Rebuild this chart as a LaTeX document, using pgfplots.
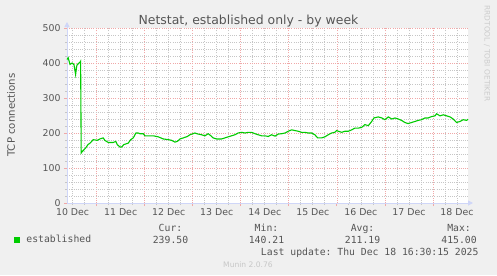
\documentclass[border=0pt]{standalone}
\usepackage{pgfplots}
\pgfplotsset{compat=1.18}
\usepackage{fontspec}
\setmainfont{DejaVu Sans}
\setmonofont{DejaVu Sans Mono}
\usetikzlibrary{arrows.meta}
\definecolor{bgc}{HTML}{F0F0F0}
\definecolor{fontc}{HTML}{555555}
\definecolor{gridc}{HTML}{C6C6C6}
\definecolor{mgridc}{HTML}{F0A8A8}
\definecolor{axisc}{HTML}{CFD6F8}
\definecolor{linec}{HTML}{00CC00}
\pgfplotstableread{
h v
9.2 410
9.8 415
10.7 396
11.8 400
12.7 395
13.5 367
14.0 390
14.3 395
15.2 400
15.7 402
16.0 405
16.3 143
16.8 147
18.5 157
19.7 167
20.7 171
22.3 181
24.3 179
25.6 183
27.3 186
28.1 179
29.8 173
32.3 173
33.6 176
34.3 167
35.6 160
36.5 160
37.6 167
39.8 171
41.0 181
42.3 186
43.6 200
44.8 200
45.6 198
47.3 198
48.1 192
50.6 192
52.3 192
54.8 189
57.3 183
59.8 181
61.5 179
63.1 174
64.3 176
65.6 183
67.3 186
69.3 190
70.6 195
73.1 200
74.7 197
76.4 195
78.1 192
79.7 198
81.1 192
82.2 186
83.9 183
86.4 183
88.1 186
89.7 189
91.4 192
93.1 195
94.7 200
96.4 202
98.1 200
99.7 202
101.4 202
103.1 198
104.7 195
106.4 192
108.1 192
109.7 190
111.4 195
113.1 191
114.7 197
116.4 198
118.1 200
119.7 205
121.4 209
123.1 207
124.7 205
126.4 202
128.1 202
129.7 200
131.4 200
133.0 195
134.4 186
136.4 186
138.0 189
139.7 195
141.4 200
143.0 202
143.9 207
144.7 205
146.4 202
148.0 205
149.7 205
151.4 209
153.0 214
154.7 214
156.4 216
158.0 224
159.7 221
161.4 233
162.5 243
164.7 246
166.4 243
168.0 238
169.7 246
171.4 240
173.0 243
174.7 240
176.3 236
178.0 230
179.6 227
181.3 230
183.0 233
184.6 236
186.3 238
188.0 243
189.6 243
191.3 247
193.0 249
193.8 255
195.5 249
197.1 252
198.8 249
200.5 246
202.1 240
203.8 230
205.5 233
207.1 238
208.8 236
209.5 239.5
}\datatable
\begin{document}
\begin{tikzpicture}[x=1bp,y=1bp]
\fill[bgc] (0,0) rectangle (497,275);
\useasboundingbox (0,0) rectangle (497,275);
\begin{axis}[
  at={(67bp,72bp)}, anchor=south west,
  scale only axis, width=401bp, height=175bp,
  xmin=9.2, xmax=209.5, ymin=0, ymax=500,
  axis background/.style={fill=white},
  axis x line*=bottom, axis y line*=left,
  x axis line style={color=axisc, line width=1bp, -{Triangle[length=5bp,width=5bp]}, shorten >=-5bp},
  y axis line style={color=axisc, line width=1bp, -{Triangle[length=5bp,width=5bp]}, shorten >=-6bp},
  xtick={24,48,72,96,120,144,168,192},
  xticklabels={},
  minor xtick={12,18,30,36,42,54,60,66,78,84,90,102,108,114,126,132,138,150,156,162,174,180,186,198,204},
  extra x ticks={12,36,60,84,108,132,156,180,204},
  extra x tick labels={10 Dec,11 Dec,12 Dec,13 Dec,14 Dec,15 Dec,16 Dec,17 Dec,18 Dec},
  extra x tick style={grid=none, major tick length=0pt, xticklabel style={yshift=-2bp}},
  ytick={0,100,200,300,400,500},
  minor y tick num=4,
  tick align=outside,
  major tick length=3bp, minor tick length=2bp,
  major tick style={color=mgridc, line width=0.8bp},
  minor tick style={color=gridc, line width=0.8bp},
  grid=both,
  major grid style={color=mgridc, line width=0.75bp, dash pattern=on 1bp off 1.2bp},
  minor grid style={color=gridc, line width=0.75bp, dash pattern=on 1bp off 1.2bp},
  tick label style={font=\fontsize{9.4}{11}\selectfont, text=fontc},
  /pgf/number format/assume math mode=true,
  legend style={at={(-0.1322,-0.2114)}, anchor=west, draw=none, fill=none, inner sep=0pt, outer sep=0pt,
    font=\fontsize{9.8}{12}\selectfont\ttfamily, text=fontc},
  legend image code/.code={\fill[linec, draw=none] (0bp,-3bp) rectangle (6bp,3bp); \path[draw=none, fill=none] (0bp,0bp) -- (10.5bp,0bp);},
  clip=false,
]
\addplot[color=linec, line width=1.1bp] table[x=h, y=v] {\datatable};
\addlegendentry{established}
\end{axis}
\node[anchor=base, font=\fontsize{12.5}{15}\selectfont, text=fontc] at (248.5,251) {Netstat, established only - by week};
\node[rotate=90, font=\fontsize{10.2}{12}\selectfont, text=fontc] at (11,160) {TCP connections};
\node[rotate=-90, font=\fontsize{7.5}{9}\selectfont, text=black!20] at (487,221.5) {RRDTOOL / TOBI OETIKER};
\begin{scope}[every node/.style={font=\fontsize{9.8}{12}\selectfont\ttfamily, text=fontc, anchor=base}]
\node at (170.5,43.5) {Cur:};
\node at (266.5,43.5) {Min:};
\node at (362.5,43.5) {Avg:};
\node at (459,43.5) {Max:};
\node at (170.5,32) {239.50};
\node at (266.5,32) {140.21};
\node at (362.5,32) {211.19};
\node at (459,32) {415.00};
\node[anchor=base east] at (482,20) {Last update: Thu Dec 18 16:30:15 2025};
\end{scope}
\node[anchor=base, font=\fontsize{7.6}{9}\selectfont, text=black!22] at (248,8) {Munin 2.0.76};
\end{tikzpicture}
\end{document}
